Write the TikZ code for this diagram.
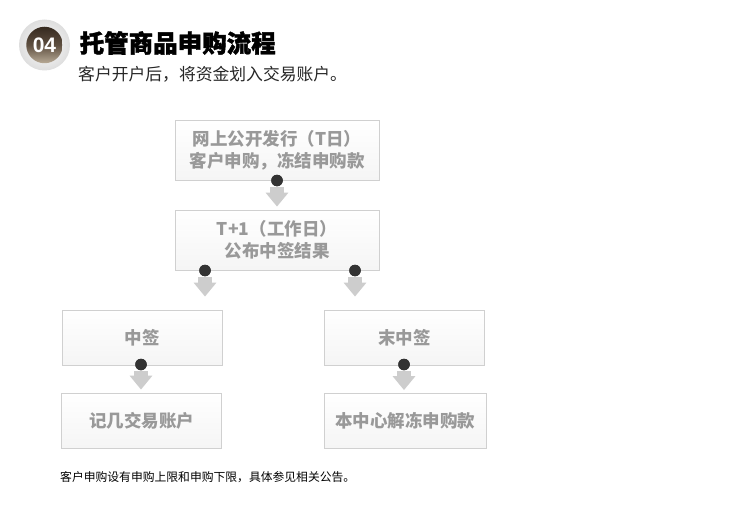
\documentclass[tikz,border=0pt]{standalone}
\usepackage{fontspec}
\setmainfont{Noto Sans CJK SC}
\newfontfamily\heavy[BoldFeatures={FakeBold=1.6}]{Noto Sans CJK SC}
\newfontfamily\badgefont{Liberation Sans}
\usetikzlibrary{calc,arrows.meta}
\definecolor{boxline}{HTML}{D0D0D0}
\definecolor{boxtext}{HTML}{999999}
\definecolor{arrowgray}{HTML}{CDCDCD}
\definecolor{dotcol}{HTML}{333333}
\definecolor{badgetop}{HTML}{35291F}
\definecolor{badgemid}{HTML}{5E4F40}
\definecolor{badgebot}{HTML}{B8AA96}
\tikzset{
  flowbox/.style={draw=boxline, line width=0.8pt, top color=white, bottom color=black!4, minimum width=204pt, minimum height=60pt, inner sep=0pt, font=\fontsize{17.5}{21.5}\selectfont\bfseries, text=boxtext, align=center},
  smallbox/.style={flowbox, minimum width=160pt, minimum height=55pt},
  joint/.style={circle, fill=dotcol, minimum size=11.5pt, inner sep=0pt},
  flowarrow/.style={draw=arrowgray, line width=14pt, -{Triangle[width=22pt,length=14pt]}, shorten <=6.5pt}
}
\begin{document}
\begin{tikzpicture}[x=1pt,y=-1pt]
\useasboundingbox (0,0) rectangle (735,516);
% badge
\shade[inner color=white, outer color=black!13] (44.5,45) circle (25.5);
\node[circle, minimum size=36.5pt, inner sep=0pt, top color=badgetop, bottom color=badgebot, middle color=badgemid] (badge) at (44.5,45) {};
\node[text=white, font=\badgefont\fontsize{21}{24}\selectfont\bfseries] (badgetext) at (badge.center) {04};
\node[anchor=west, font=\heavy\fontsize{24.5}{27}\selectfont\bfseries, inner sep=0pt] (title) at (79.5,43) {托管商品申购流程};
\node[anchor=west, font=\fontsize{16.8}{20}\selectfont, text=black!85, inner sep=0pt] (subtitle) at (78,74) {客户开户后，将资金划入交易账户。};
% boxes
\node[flowbox] (b1) at (277,150.5) {网上公开发行（T日）\\客户申购，冻结申购款};
\node[flowbox] (b2) at (277,240) {T+1（工作日）\\公布中签结果};
\node[smallbox] (b3) at (142,337.5) {中签};
\node[smallbox] (b4) at (404.5,337.5) {末中签};
\node[smallbox] (b5) at (141.5,420.5) {记几交易账户};
\node[smallbox, minimum width=162pt] (b6) at (405,421) {本中心解冻申购款};
% joints
\node[joint] (d1) at (277,180.5) {};
\node[joint] (d2) at (205,270.5) {};
\node[joint] (d3) at (355,270.5) {};
\node[joint] (d4) at (141,364.5) {};
\node[joint] (d5) at (404,364.5) {};
% arrows
\draw[flowarrow, shorten >=3pt] (d1.center) -- (d1 |- b2.north);
\draw[flowarrow, shorten >=13pt] (d2.center) -- (d2 |- b3.north);
\draw[flowarrow, shorten >=13pt] (d3.center) -- (d3 |- b4.north);
\draw[flowarrow, shorten >=3pt] (d4.center) -- (d4 |- b5.north);
\draw[flowarrow, shorten >=3pt] (d5.center) -- (d5 |- b6.north);
% redraw joints on top
\foreach \d in {d1,d2,d3,d4,d5} \fill[dotcol] (\d) circle (5.75pt);
% footer
\node[anchor=west, font=\fontsize{11.8}{14}\selectfont, inner sep=0pt] (footer) at (60,477) {客户申购设有申购上限和申购下限，具体参见相关公告。};
\end{tikzpicture}
\end{document}
